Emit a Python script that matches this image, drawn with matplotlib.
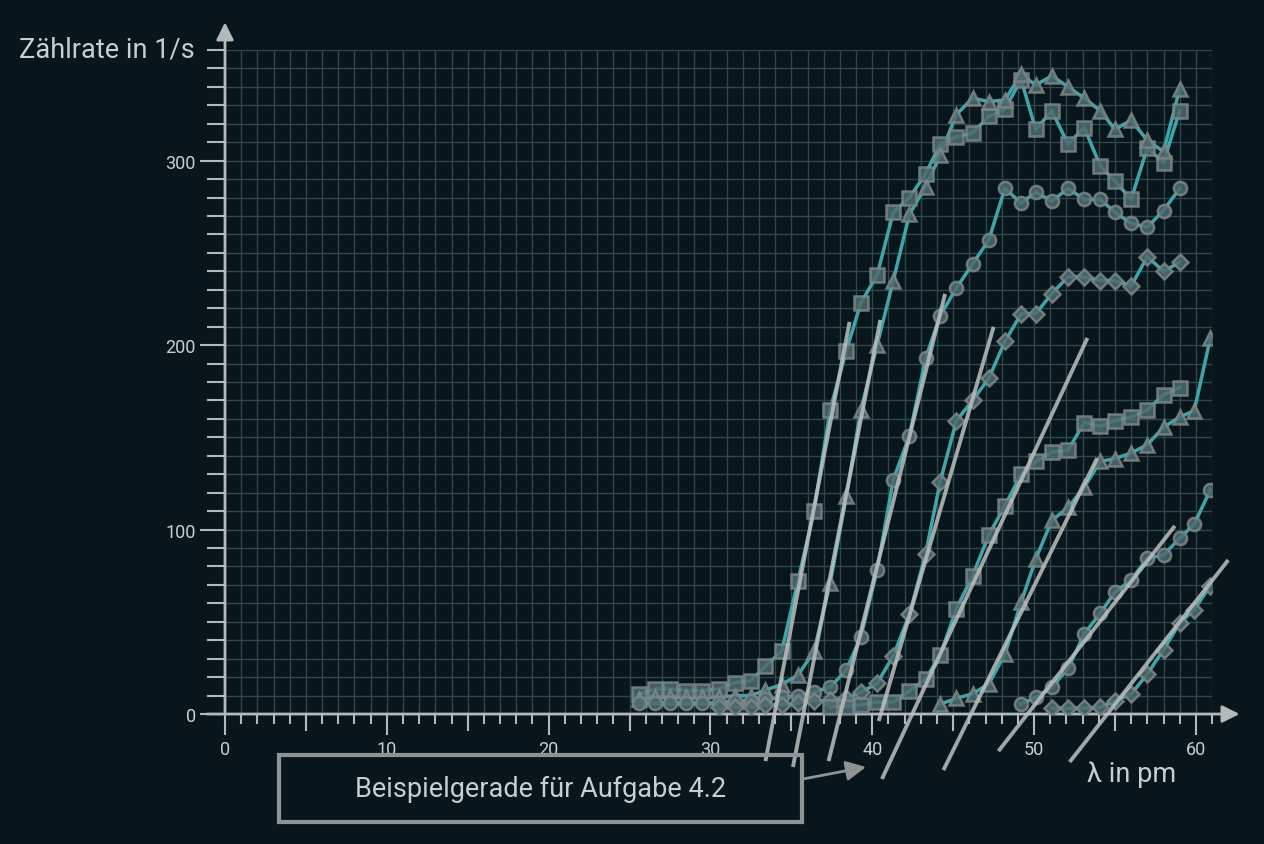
import numpy as np
import matplotlib
matplotlib.use("Agg")
import matplotlib.pyplot as plt
from matplotlib.patches import Rectangle

nan = np.nan

# wavelengths of the measuring points (pm)
LAMBDA_PM = [25.6, 26.6, 27.5, 28.5, 29.5, 30.5, 31.5, 32.5, 33.4, 34.4,
             35.4, 36.4, 37.4, 38.4, 39.3, 40.3, 41.3, 42.3, 43.3, 44.2,
             45.2, 46.2, 47.2, 48.2, 49.2, 50.1, 51.1, 52.1, 53.1, 54.1,
             55.0, 56.0, 57.0, 58.0, 59.0, 59.9, 60.9]

# count rates (1/s), one list per tube voltage
RATE_1 = [10.8, 13.6, 13.6, 12.7, 12.7, 13.6, 17, 18, 26, 34, 72, 110, 165, 197,
          223, 238, 272, 280, 293, 309, 313, 315, 324, 328, 344, 317, 327, 309,
          318, 297, 289, 279, 307, 299, 327, nan, nan]
RATE_2 = [8, 9, 9, 9, 9, 9, 10, 10, 13, 16, 21, 34, 71, 118, 165, 200, 235, 271,
          286, 303, 325, 334, 332, 333, 347, 341, 346, 340, 334, 327, 317, 322,
          311, 305, 339, nan, nan]
RATE_3 = [6, 6, 6, 6, 6, 6, 7, 7, 8, 9, 10, 12, 14.5, 24, 42, 78, 127, 151, 193,
          216, 231, 244, 257, 285, 277, 283, 278, 285, 279, 279, 272, 266, 264,
          273, 285, nan, nan]
RATE_4 = [nan] * 5 + [4, 4, 4, 5, 5, 6, 7, 7.5, 8.5, 11.8, 16.6, 31.6, 54, 87,
                      126, 159, 170, 182, 202, 217, 217, 228, 237, 237, 235, 235,
                      232, 248, 240, 245] + [nan, nan]
RATE_5 = [nan] * 12 + [4, 4, 5, 6.5, 6.5, 12.6, 19, 32, 57, 75, 97, 113, 130,
                       137, 142, 143, 158, 156, 159, 161, 165, 173, 177] + [nan, nan]
RATE_6 = [nan] * 19 + [5.4, 8.5, 11, 16.3, 32.5, 60.6, 84, 105, 112, 123, 137,
                       138.5, 141.5, 146, 155.5, 161, 164.5, 204]
RATE_7 = [nan] * 24 + [5.4, 9, 14.5, 24.8, 43.4, 54.8, 66, 72.8, 84.4, 86.2,
                       95.3, 103, 121.6]
RATE_8 = [nan] * 26 + [3.1, 3.1, 3.1, 3.6, 7.2, 10.8, 21.7, 34.9, 49.3, 56.6, 69.6]

SERIES = [RATE_1, RATE_2, RATE_3, RATE_4, RATE_5, RATE_6, RATE_7, RATE_8]
MARKERS = ["s", "^", "o", "D", "s", "^", "o", "D"]

# example fit lines (start/end points)
FIT_LAMBDA_START = [33.4, 35.1, 37.3, 40.4, 40.6, 44.4, 47.8, 52.2]
FIT_LAMBDA_END = [38.6, 40.5, 44.5, 47.5, 53.3, 53.9, 58.7, 62.0]
FIT_RATE_START = [-25.5, -28.7, -25.5, -3.8, -35.2, -30.4, -20.1, -26.0]
FIT_RATE_END = [212.6, 213.7, 227.8, 209.9, 203.9, 138.8, 102.0, 83.5]

BG = "#08161b"
GRID = "#2d474c"
AXIS = "#b4b8b8"
TEXT = "#c9cdcd"
TEAL = "#40a5aa"

plt.rcParams["font.family"] = ["Roboto", "DejaVu Sans"]

fig = plt.figure(figsize=(12.64, 8.45), dpi=100, facecolor=BG)
ax = fig.add_axes([0.178, 0.1538, 0.7809, 0.7858], facecolor="none")
ax.set_xlim(0, 61)
ax.set_ylim(0, 360)
for sp in ax.spines.values():
    sp.set_visible(False)

# ticks + grid
ax.set_xticks(np.arange(0, 61, 10))
ax.set_xticks(np.arange(0, 62, 1), minor=True)
ax.set_yticks([0, 100, 200, 300])
ax.set_yticks(np.arange(0, 361, 10), minor=True)
ax.grid(which="both", color=GRID, lw=1.0)
ax.set_axisbelow(True)
ax.tick_params(axis="x", which="major", length=15, width=1.5, color=AXIS,
               labelcolor=TEXT, labelsize=13, pad=4)
ax.tick_params(axis="x", which="minor", length=7, width=1.5, color=AXIS)
ax.tick_params(axis="y", which="major", length=18, width=1.5, color=AXIS,
               labelcolor=TEXT, labelsize=13, pad=3)
ax.tick_params(axis="y", which="minor", length=13, width=1.5, color=AXIS)

# medium ticks at the fives
sec = ax.secondary_xaxis("bottom")
sec.set_xticks(np.arange(5, 61, 10))
sec.set_xticklabels([])
sec.tick_params(length=12, width=1.5, color=AXIS)
sec.spines["bottom"].set_visible(False)

# axis arrows
arrow = dict(arrowstyle="-|>,head_length=0.7,head_width=0.35", color=AXIS,
             lw=2, mutation_scale=15, shrinkA=0, shrinkB=0)
ax.annotate("", xy=(62.7, 0), xytext=(-1.1, 0), arrowprops=arrow,
            annotation_clip=False)
ax.annotate("", xy=(0, 375), xytext=(0, 0), arrowprops=arrow,
            annotation_clip=False)

# measured curves
for rate, mk in zip(SERIES, MARKERS):
    ax.plot(LAMBDA_PM, rate, color=TEAL, lw=2.5, zorder=3)
    ax.plot(LAMBDA_PM, rate, ls="none", marker=mk, ms=9.5 if mk != "D" else 8,
            mfc=(0.30, 0.42, 0.44, 0.5), mec="#7d8788", mew=1.8, alpha=0.85,
            zorder=4)

# example fit lines
for x0, x1, y0, y1 in zip(FIT_LAMBDA_START, FIT_LAMBDA_END,
                          FIT_RATE_START, FIT_RATE_END):
    ax.plot([x0, x1], [y0, y1], color="#bcbfbf", lw=2.8, alpha=0.85,
            solid_capstyle="butt", clip_on=False, zorder=5)

# labels
fig.text(19 / 1264, 1 - 50 / 845, "Zählrate in 1/s", color=TEXT, fontsize=19.5,
         ha="left", va="center")
fig.text(1087 / 1264, 1 - 775 / 845, "λ in pm", color=TEXT, fontsize=19.5,
         ha="left", va="center")

# note box with arrow
fig.patches.append(Rectangle((279 / 1264, 1 - 823 / 845), 523 / 1264, 67 / 845,
                             transform=fig.transFigure, fill=False,
                             ec="#8f9393", lw=3))
fig.text(541 / 1264, 1 - 789 / 845, "Beispielgerade für Aufgabe 4.2",
         color=TEXT, fontsize=19.5, ha="center", va="center")
ax.annotate("", xy=(866 / 1264, 1 - 768 / 845), xycoords="figure fraction",
            xytext=(803 / 1264, 1 - 780 / 845), textcoords="figure fraction",
            arrowprops=dict(arrowstyle="-|>,head_length=0.8,head_width=0.4",
                            color="#8f9393", lw=2, mutation_scale=15,
                            shrinkA=0, shrinkB=0))

fig.savefig("out.png", dpi=100, facecolor=BG)
